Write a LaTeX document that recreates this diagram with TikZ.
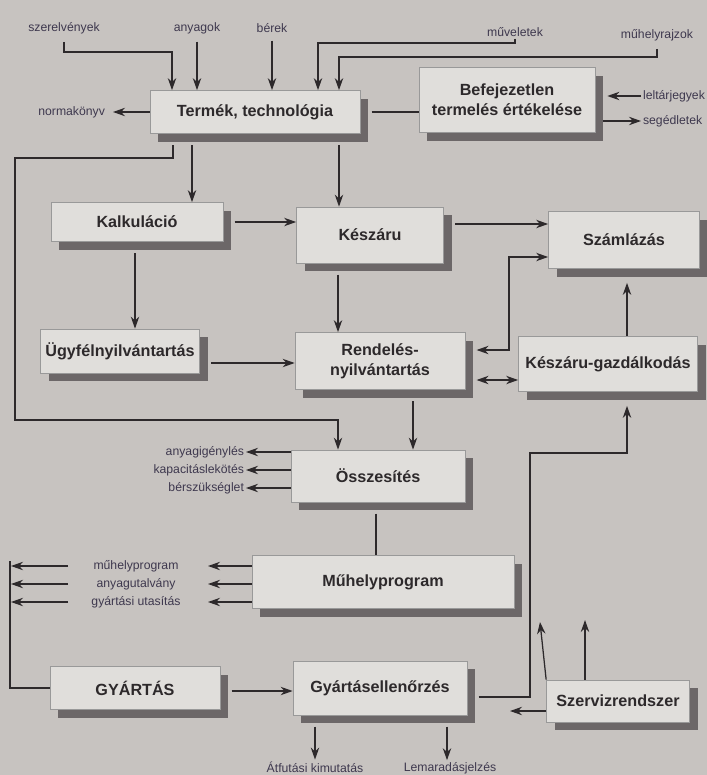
\documentclass[tikz,border=0pt]{standalone}
\usepackage{fontspec}
\setmainfont{Liberation Sans}
\usetikzlibrary{arrows.meta,shadows}
\definecolor{pagegrey}{RGB}{199,195,192}
\definecolor{boxgrey}{RGB}{224,222,219}
\definecolor{shadegrey}{RGB}{108,103,104}
\definecolor{inkgrey}{RGB}{45,41,43}
\definecolor{labelink}{RGB}{62,56,78}

\begin{document}
\begin{tikzpicture}[x=0.025cm, y=-0.025cm, >={Stealth[length=3mm,width=2.1mm]},
  line width=0.9pt, color=inkgrey,
  box/.style={draw=gray!80, line width=0.5pt, fill=boxgrey, text=inkgrey, align=center,
    inner sep=0pt, font=\fontsize{11.5}{14}\selectfont\bfseries,
    drop shadow={shadow xshift=2mm, shadow yshift=-2mm, fill=shadegrey, opacity=1}},
  sz/.style 2 args={minimum width=#1*0.025cm, minimum height=#2*0.025cm},
  lab/.style={text=labelink, inner sep=1pt, font=\fontsize{8.7}{10}\selectfont},
  fromshade/.style={shorten <=2.8mm},
  fromlab/.style={shorten <=1.5mm}]
  \useasboundingbox (0,0) rectangle (707,775);
  \fill[pagegrey] (0,0) rectangle (707,775);

  \node[box, sz={210}{43}] (term) at (255,112) {Termék, technológia};
  \node[box, sz={176}{65}] (befej) at (507,100) {Befejezetlen\\termelés értékelése};
  \node[box, sz={172}{39}] (kalk) at (137,222) {Kalkuláció};
  \node[box, sz={147}{56}] (keszaru) at (370,235) {Készáru};
  \node[box, sz={151}{57}] (szaml) at (624,240) {Számlázás};
  \node[box, sz={159}{44}] (ugyfel) at (120,351) {Ügyfélnyilvántartás};
  \node[box, sz={170}{57}] (rendel) at (380,361) {Rendelés-\\nyilvántartás};
  \node[box, sz={179}{55}] (kgazd) at (608,364) {Készáru-gazdálkodás};
  \node[box, sz={174}{52}] (ossz) at (378,476) {Összesítés};
  \node[box, sz={262}{53}] (muhely) at (383,582) {Műhelyprogram};
  \node[box, sz={170}{43}] (gyart) at (135,688) {GYÁRTÁS};
  \node[box, sz={174}{54}] (gyell) at (380,688) {Gyártásellenőrzés};
  \node[box, sz={143}{42}] (szerv) at (618,701) {Szervizrendszer};

  \node[lab] (lszer) at (64,28) {szerelvények};
  \node[lab] (lanyag) at (197,28) {anyagok};
  \node[lab] (lber) at (272,28) {bérek};
  \node[lab] (lmuv) at (515,32) {műveletek};
  \node[lab] (lmhr) at (657,35) {műhelyrajzok};
  \node[lab, anchor=east] (lnorm) at (107,112) {normakönyv};
  \node[lab, anchor=west] (lleltar) at (641,96) {leltárjegyek};
  \node[lab, anchor=west] (lseged) at (641,121) {segédletek};
  \node[lab, anchor=east] (lanyig) at (246,452) {anyagigénylés};
  \node[lab, anchor=east] (lkapac) at (246,470) {kapacitáslekötés};
  \node[lab, anchor=east] (lberszuk) at (246,488) {bérszükséglet};
  \node[lab] (lmp) at (136,566) {műhelyprogram};
  \node[lab] (lautal) at (136,584) {anyagutalvány};
  \node[lab] (lutas) at (136,602) {gyártási utasítás};
  \node[lab] (latf) at (315,767) {Átfutási kimutatás};
  \node[lab] (llem) at (450,768) {Lemaradásjelzés};

  \coordinate (sz1) at (540,622);
  \coordinate (sz2) at (585,620);
  \coordinate (sz3) at (510,711);

  \draw[->, fromlab] (lszer.south) |- (172,52) -- (term.north -| 172,0);
  \draw[->, fromlab] (lanyag.south) -- (term.north -| lanyag.south);
  \draw[->, fromlab] (lber.south) -- (term.north -| lber.south);
  \draw[->] (lmuv.south) |- (318,43) -- (term.north -| 318,0);
  \draw[->, fromlab] (lmhr.south) |- (339,57) -- (term.north -| 339,0);
  \draw[->, shorten >=1.5mm] (term.west) -- (lnorm.east);
  \draw[fromshade] (term.east) -- (befej.west |- term.east);
  \draw[->, shorten >=3mm] (lleltar.west) -- (befej.east |- lleltar.west);
  \draw[->, shorten <=2mm] (befej.east |- lseged.west) -- (lseged.west);

  \draw[->, fromshade] (term.south -| 192,0) -- (kalk.north -| 192,0);
  \draw[->, fromshade] (term.south -| 339,0) -- (keszaru.north -| 339,0);
  \draw[->, fromshade] (term.south -| 173,0) |- (15,158) |- (338,420) -- (ossz.north -| 338,0);
  \draw[->, fromshade] (kalk.east) -- (keszaru.west |- kalk.east);
  \draw[->, fromshade] (kalk.south -| 135,0) -- (ugyfel.north -| 135,0);
  \draw[->, fromshade] (keszaru.east |- 0,224) -- (szaml.west |- 0,224);
  \draw[->, fromshade] (keszaru.south -| 338,0) -- (rendel.north -| 338,0);
  \draw[->, fromshade] (ugyfel.east |- 0,363) -- (rendel.west |- 0,363);
  \draw[<->, fromshade] (rendel.east |- 0,350) -| (509,257) -- (szaml.west |- 0,257);
  \draw[<->, fromshade] (rendel.east |- 0,380) -- (kgazd.west |- 0,380);
  \draw[->, shorten >=3.5mm] (kgazd.north -| 627,0) -- (szaml.south -| 627,0);
  \draw[->, fromshade] (rendel.south -| 413,0) -- (ossz.north -| 413,0);

  \draw[->] (ossz.west |- lanyig) -- (lanyig.east);
  \draw[->] (ossz.west |- lkapac) -- (lkapac.east);
  \draw[->] (ossz.west |- lberszuk) -- (lberszuk.east);
  \draw[fromshade] (ossz.south -| 376,0) -- (muhely.north -| 376,0);

  \draw[->] (muhely.west |- lmp) -- (lmp -| 208,0);
  \draw[->] (muhely.west |- lautal) -- (lautal -| 208,0);
  \draw[->] (muhely.west |- lutas) -- (lutas -| 208,0);
  \draw[->] (lmp -| 68,0) -- (lmp -| 11,0);
  \draw[->] (lautal -| 68,0) -- (lautal -| 11,0);
  \draw[->] (lutas -| 68,0) -- (lutas -| 11,0);
  \draw (10,561) |- (gyart.west);

  \draw[->, fromshade] (gyart.east |- 0,691) -- (gyell.west |- 0,691);
  \draw[->, fromshade] (gyell.south -| latf.north) -- (latf.north);
  \draw[->, fromshade] (gyell.south -| 447,0) -- (llem.north -| 447,0);
  \draw[->, fromshade, shorten >=3.5mm] (gyell.east |- 0,697) -| (530,453) -| (kgazd.south -| 627,0);
  \draw[->] (szerv.north west) -- (sz1);
  \draw[->] (szerv.north -| sz2) -- (sz2);
  \draw[->] (szerv.west |- sz3) -- (sz3);
\end{tikzpicture}
\end{document}
